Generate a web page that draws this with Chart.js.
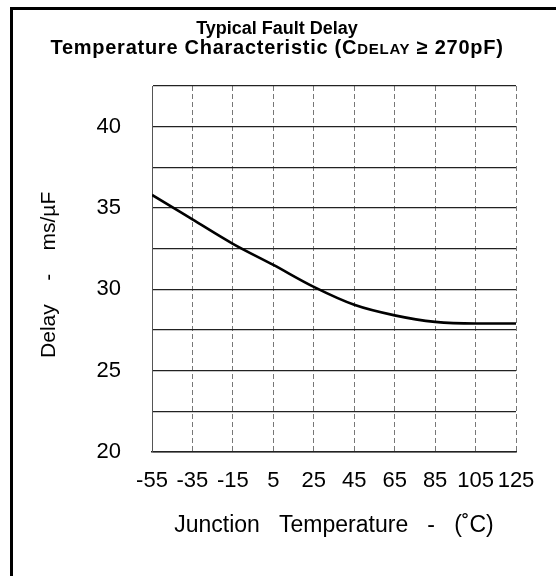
<!DOCTYPE html>
<html>
<head>
<meta charset="utf-8">
<script src="https://cdn.jsdelivr.net/npm/chart.js@4/dist/chart.umd.min.js"></script>
<style>
  html, body { margin: 0; padding: 0; background: #fff; overflow: hidden; }
  #wrap { position: relative; width: 556px; height: 576px; }
  #frame { position: absolute; left: 10px; top: 7px; width: 560px; height: 600px;
           border-left: 3px solid #000; border-top: 3px solid #000; }
  canvas { position: absolute; left: 0; top: 0; }
</style>
</head>
<body>
<div id="wrap">
  <div id="frame"></div>
  <canvas id="delayChart" width="556" height="576"></canvas>
</div>
<script>
// values
const temps = [-55, -35, -15, 5, 25, 45, 65, 85, 105, 125];
const delay = [35.8, 34.3, 32.8, 31.5, 30.15, 29.05, 28.4, 28.0, 27.9, 27.9];
const yTickLabels = [20, 25, 30, 35, 40];

const FONT = "'Liberation Sans', Arial, Helvetica, sans-serif";

// two-line heading, with "DELAY" set in small caps
const headingPlugin = {
  id: "heading",
  afterDraw(chart) {
    const ctx = chart.ctx;
    const cx = 277;
    ctx.save();
    ctx.fillStyle = "#000";
    ctx.textBaseline = "middle";
    ctx.textAlign = "left";

    ctx.font = "bold 18px " + FONT;
    const l1 = "Typical Fault Delay";
    ctx.fillText(l1, cx - ctx.measureText(l1).width / 2, 29);

    const parts = [
      ["Temperature Characteristic (C", "bold 20px ", 48],
      ["DELAY", "bold 15px ", 49.5],
      [" \u2265 270pF)", "bold 20px ", 48],
    ];
    // stretch the second line to the width seen in the original
    let total = 0, chars = 0;
    parts.forEach(p => { ctx.font = p[1] + FONT; total += ctx.measureText(p[0]).width; chars += p[0].length; });
    const extra = Math.max(0, (453 - total) / chars);
    ctx.letterSpacing = extra.toFixed(2) + "px";
    total = 0;
    parts.forEach(p => { ctx.font = p[1] + FONT; total += ctx.measureText(p[0]).width; });
    let x = cx - total / 2;
    parts.forEach(p => {
      ctx.font = p[1] + FONT;
      ctx.fillText(p[0], x, p[2]);
      x += ctx.measureText(p[0]).width;
    });
    ctx.restore();
  },
};

new Chart(document.getElementById("delayChart"), {
  type: "line",
  data: {
    datasets: [{
      data: temps.map((t, i) => ({ x: t, y: delay[i] })),
      borderColor: "#000",
      borderWidth: 2.6,
      fill: false,
      cubicInterpolationMode: "monotone",
      pointRadius: 0,
    }],
  },
  options: {
    responsive: false,
    animation: false,
    layout: { padding: { top: 86, left: 0, right: 40, bottom: 0 } },
    plugins: { legend: { display: false }, tooltip: { enabled: false }, title: { display: false } },
    scales: {
      x: {
        type: "linear",
        min: -55,
        max: 125,
        afterBuildTicks(scale) { scale.ticks = temps.map(v => ({ value: v })); },
        afterFit(scale) { scale.height = 124; },
        grid: { color: "#777", lineWidth: 1, drawTicks: false },
        border: { color: "#222", width: 1.5, dash: [5, 3] },
        ticks: {
          padding: 16,
          color: "#000",
          maxRotation: 0,
          autoSkip: false,
          font: { family: FONT, size: 22 },
        },
        title: {
          display: true,
          text: "Junction   Temperature   -   (\u02DAC)",
          color: "#000",
          font: { family: FONT, size: 23 },
          padding: { top: 0, bottom: 37 },
        },
      },
      y: {
        min: 20,
        max: 42.5,
        afterBuildTicks(scale) {
          const t = [];
          for (let v = 20; v <= 42.5; v += 2.5) t.push({ value: v });
          scale.ticks = t;
        },
        afterFit(scale) { scale.width = 152; },
        grid: { color: "#222", lineWidth: 1.2, drawTicks: false },
        border: { color: "#555", width: 1 },
        ticks: {
          padding: 31,
          color: "#000",
          autoSkip: false,
          font: { family: FONT, size: 22 },
          callback: v => (yTickLabels.includes(v) ? String(v) : ""),
        },
        title: {
          display: true,
          text: "Delay    -    ms/\u00B5F  ",
          color: "#000",
          font: { family: FONT, size: 21 },
          padding: { top: 37, bottom: 0 },
        },
      },
    },
  },
  plugins: [headingPlugin],
});
</script>
</body>
</html>
